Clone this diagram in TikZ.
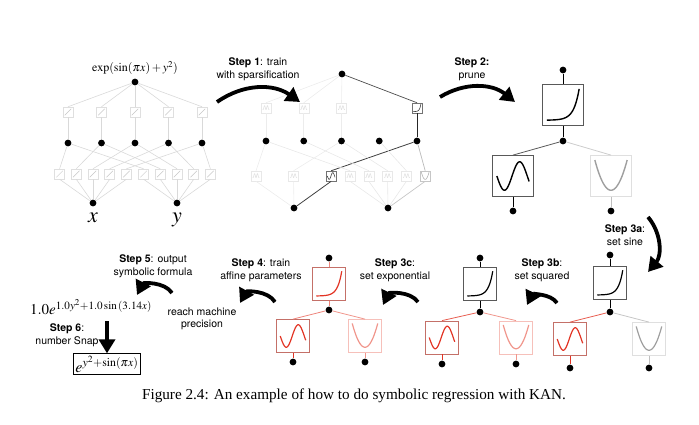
\documentclass[tikz,border=0pt]{standalone}
\usepackage{mathptmx}
\usepackage{fontspec}
\setmainfont{Liberation Serif}
\newfontfamily\helv{TeX Gyre Heros}
\usepackage{tikz}
\usetikzlibrary{arrows.meta, positioning, calc}

\definecolor{kred}{RGB}{226,52,36}
\definecolor{kpink}{RGB}{240,150,140}
\definecolor{kedge}{RGB}{196,112,104}

% curves drawn inside the activation boxes
\newcommand{\drawsine}[3]{\begin{scope}[shift={(#1.center)}, x=#2pt, y=#2pt]
  \draw[#3] plot[domain=-0.85:0.85, samples=40, smooth] (\x, {0.75*sin(225*(\x+0.05))});\end{scope}}
\newcommand{\drawsquare}[3]{\begin{scope}[shift={(#1.center)}, x=#2pt, y=#2pt]
  \draw[#3] plot[domain=-0.85:0.85, samples=40, smooth] (\x, {-0.75+2.2*\x*\x});\end{scope}}
\newcommand{\drawexp}[3]{\begin{scope}[shift={(#1.center)}, x=#2pt, y=#2pt]
  \draw[#3] plot[domain=-0.85:0.85, samples=40, smooth] (\x, {-0.8+1.65*exp(3.5*(\x-0.85))});\end{scope}}
\newcommand{\drawwiggle}[3]{\begin{scope}[shift={(#1.center)}, x=#2pt, y=#2pt]
  \draw[#3] plot[domain=-0.8:0.8, samples=40, smooth] (\x, {0.1-0.5*cos(500*\x)});\end{scope}}

\begin{document}
\begin{tikzpicture}[
    x=1pt, y=-1pt,
    dot/.style={circle, fill=black, inner sep=0pt, minimum size=6.8pt},
    act/.style={draw=gray!25, rectangle, minimum size=10pt, inner sep=0pt, line width=0.5pt},
    fbox/.style={draw=black!65, rectangle, minimum size=33pt, inner sep=0pt, line width=0.8pt},
    faint/.style={draw=gray!30, line width=0.6pt},
    lab/.style={font=\helv\fontsize{10.5}{12.5}\selectfont, align=center},
    bigarrow/.style={-{Triangle[length=14pt, width=16pt]}, line width=3.8pt},
]
\useasboundingbox (0,0) rectangle (699,424);

% Panel 1: initial network
\node[font=\fontsize{12}{12}\selectfont] (f0) at (135,68) {$\exp(\sin(\pi x)+y^2)$};
\node[dot] (t0) at (135,82) {};
\node[dot] (x0) at (93,203) {};
\node[dot] (y0) at (177,203) {};
\node[anchor=base, font=\fontsize{22}{22}\selectfont] (x0l) at (93,222) {$x$};
\node[anchor=base, font=\fontsize{22}{22}\selectfont] (y0l) at (177,222) {$y$};
\foreach \j in {0,...,4} {
  \node[act] (a0\j) at ({68+33.5*\j},112) {};
  \node[dot] (h0\j) at ({68+33.5*\j},143) {};
  \node[act] (bx0\j) at ({59.6+16.7*\j},174) {};
  \node[act] (by0\j) at ({143.6+16.7*\j},174) {};
  \draw[faint] (t0) -- (a0\j.north);
  \draw[faint] (a0\j) -- (h0\j);
  \draw[faint] (h0\j) -- (bx0\j.north);
  \draw[faint] (h0\j) -- (by0\j.north);
  \draw[faint] (bx0\j.south) -- (x0);
  \draw[faint] (by0\j.south) -- (y0);
  \foreach \b in {a0\j, bx0\j, by0\j}
    \draw[gray!45, line width=0.5pt] ([shift={(2,-2)}]\b.south west) -- ([shift={(-2,2)}]\b.north east);
}

% Panel 2: after sparsification
\node[dot] (t1) at (342,74) {};
\node[dot] (x1) at (294,208) {};
\node[dot] (y1) at (388,208) {};
\foreach \j in {0,...,4}
  \node[dot] (h1\j) at ({266+37.75*\j},141) {};
\foreach \j in {0,1,2} {
  \node[act, draw=gray!18] (a1\j) at ({266+37.75*\j},108) {};
  \draw[faint, draw=gray!15] (t1) -- (a1\j.north);
  \draw[faint, draw=gray!15] (a1\j) -- (h1\j);
  \drawwiggle{a1\j}{4}{gray!25, line width=0.5pt}
}
\node[act, draw=black!55] (a14) at (417,108) {};
\draw[black!70, line width=0.7pt] (t1) -- (a14.north);
\draw[black!85, line width=0.8pt] (a14) -- (h14);
\drawexp{a14}{4.5}{black!75, line width=0.6pt}
\foreach \j in {0,2} {
  \node[act, draw=gray!18] (bx1\j) at ({256+18.8*\j},176) {};
  \draw[faint, draw=gray!15] (h1\j) -- (bx1\j.north);
  \draw[faint, draw=gray!15] (bx1\j.south) -- (x1);
  \drawwiggle{bx1\j}{4}{gray!25, line width=0.5pt}
}
\node[act, draw=black!55] (bx14) at (331.2,176) {};
\draw[black!75, line width=0.8pt] (h14) -- (bx14.north);
\draw[black!75, line width=0.8pt] (bx14.south) -- (x1);
\drawsine{bx14}{4.5}{black!75, line width=0.6pt}
\foreach \j in {0,...,3} {
  \node[act, draw=gray!18] (by1\j) at ({350+18.8*\j},176) {};
  \draw[faint, draw=gray!18] (h1\j) -- (by1\j.north);
  \draw[faint, draw=gray!18] (by1\j.south) -- (y1);
  \drawwiggle{by1\j}{4}{gray!25, line width=0.5pt}
}
\node[act, draw=gray!45] (by14) at (425.2,176) {};
\draw[gray!55, line width=0.7pt] (h14) -- (by14.north);
\draw[gray!45, line width=0.7pt] (by14.south) -- (y1);
\drawsquare{by14}{4.5}{gray!60, line width=0.6pt}

% Panel 3: pruned
\node[dot] (t2) at (563,70) {};
\node[fbox, minimum size=41pt] (a2) at (563,105) {};
\node[dot] (h2) at (563,141) {};
\node[fbox, minimum size=41pt] (bx2) at (513,176) {};
\node[fbox, minimum size=41pt, draw=gray!25] (by2) at (611,176) {};
\node[dot] (x2) at (513,211) {};
\node[dot] (y2) at (611,211) {};
\draw[line width=0.8pt] (t2) -- (a2);
\draw[line width=0.8pt] (a2) -- (h2);
\draw[black!65, line width=0.8pt] (h2) -- (bx2.north);
\draw[gray!40, line width=0.8pt] (h2) -- (by2.north);
\draw[line width=0.8pt] (bx2) -- (x2);
\draw[gray!50, line width=0.8pt] (by2) -- (y2);
\drawexp{a2}{19}{line width=1.4pt}
\drawsine{bx2}{19}{line width=1.4pt}
\drawsquare{by2}{19}{gray!75, line width=1.4pt}

% Panel 4: sine fixed
\node[dot] (t3) at (610,255) {};
\node[fbox] (a3) at (610,283) {};
\node[dot] (h3) at (610,312) {};
\node[fbox, draw=kedge] (bx3) at (570,339) {};
\node[fbox, draw=gray!25] (by3) at (649,339) {};
\node[dot] (x3) at (570,368) {};
\node[dot] (y3) at (649,368) {};
\draw[line width=0.8pt] (t3) -- (a3);
\draw[line width=0.8pt] (a3) -- (h3);
\draw[kred!80, line width=0.8pt] (h3) -- (bx3.north);
\draw[gray!45, line width=0.8pt] (h3) -- (by3.north);
\draw[kred, line width=0.8pt] (bx3) -- (x3);
\draw[gray!50, line width=0.8pt] (by3) -- (y3);
\drawexp{a3}{15}{line width=1.2pt}
\drawsine{bx3}{15}{kred, line width=1.2pt}
\drawsquare{by3}{15}{gray!75, line width=1.2pt}

% Panel 5: square fixed
\node[dot] (t4) at (480,258) {};
\node[fbox] (a4) at (480,284) {};
\node[dot] (h4) at (480,312) {};
\node[fbox, draw=kedge] (bx4) at (442,337.5) {};
\node[fbox, draw=kpink!60] (by4) at (516,337.5) {};
\node[dot] (x4) at (442,364) {};
\node[dot] (y4) at (516,364) {};
\draw[line width=0.8pt] (t4) -- (a4);
\draw[line width=0.8pt] (a4) -- (h4);
\draw[kred!80, line width=0.8pt] (h4) -- (bx4.north);
\draw[kpink, line width=0.8pt] (h4) -- (by4.north);
\draw[kred, line width=0.8pt] (bx4) -- (x4);
\draw[kpink, line width=0.8pt] (by4) -- (y4);
\drawexp{a4}{15}{line width=1.2pt}
\drawsine{bx4}{15}{kred, line width=1.2pt}
\drawsquare{by4}{15}{kpink, line width=1.2pt}

% Panel 6: exponential fixed
\node[dot] (t5) at (329,258) {};
\node[fbox, draw=kedge] (a5) at (329,284) {};
\node[dot] (h5) at (329,310) {};
\node[fbox, draw=kedge] (bx5) at (293,336) {};
\node[fbox, draw=kpink!60] (by5) at (365,336) {};
\node[dot] (x5) at (293,362) {};
\node[dot] (y5) at (365,362) {};
\draw[kred!60, line width=0.8pt] (t5) -- (a5);
\draw[kred!60, line width=0.8pt] (a5) -- (h5);
\draw[kred!60, line width=0.8pt] (h5) -- (bx5.north);
\draw[kpink, line width=0.8pt] (h5) -- (by5.north);
\draw[kred, line width=0.8pt] (bx5) -- (x5);
\draw[kpink, line width=0.8pt] (by5) -- (y5);
\drawexp{a5}{15}{kred, line width=1.2pt}
\drawsine{bx5}{15}{kred, line width=1.2pt}
\drawsquare{by5}{15}{kpink, line width=1.2pt}

% Step labels
\node[lab] (s1) at (258,69) {\textbf{Step 1}: train\\with sparsification};
\node[lab] (s2) at (472,69) {\textbf{Step 2:}\\prune};
\node[lab] (s3a) at (625,235) {\textbf{Step 3a}:\\set sine};
\node[lab] (s3b) at (542,270) {\textbf{Step 3b}:\\set squared};
\node[lab] (s3c) at (395,270) {\textbf{Step 3c}:\\set exponential};
\node[lab] (s4) at (261,270) {\textbf{Step 4}: train\\affine parameters};
\node[lab] (prec) at (202,319) {reach machine\\precision};
\node[lab] (s5) at (153,266) {\textbf{Step 5}: output\\symbolic formula};
\node[lab] (s6) at (67,335) {\textbf{Step 6}:\\number Snap};

% Formulas
\node[font=\fontsize{15}{15}\selectfont] (res) at (91,307) {$1.0e^{1.0y^2+1.0\sin\,(3.14x)}$};
\node[draw, line width=0.6pt, inner sep=2pt, font=\fontsize{16}{16}\selectfont] (snap) at (107,364) {$e^{y^2+\sin(\pi x)}$};

% Step arrows
\coordinate (s1a) at (217,102);
\coordinate (s1b) at (300,102);
\coordinate (s2a) at (440,97);
\coordinate (s2b) at (515,102);
\coordinate (s3aa) at (648,217);
\coordinate (s3ab) at (648,272);
\coordinate (s3ba) at (557,303);
\coordinate (s3bb) at (527,305);
\coordinate (s3ca) at (418,302);
\coordinate (s3cb) at (383,305);
\coordinate (s4a) at (275,302);
\coordinate (s4b) at (240,303);
\coordinate (s5a) at (172,293);
\coordinate (s5b) at (137,295);
\coordinate (s6a) at (107,321);
\draw[bigarrow] (s1a) to[bend left=35] (s1b);
\draw[bigarrow] (s2a) to[bend left=35] (s2b);
\draw[bigarrow] (s3aa) to[bend left=40] (s3ab);
\draw[bigarrow] (s3ba) to[bend right=60] (s3bb);
\draw[bigarrow] (s3ca) to[bend right=60] (s3cb);
\draw[bigarrow] (s4a) to[bend right=60] (s4b);
\draw[bigarrow] (s5a) to[bend right=60] (s5b);
\draw[bigarrow] (s6a) -- (snap.north);

% Caption
\node[font=\fontsize{15.2}{18}\selectfont] (cap) at (354,396) {Figure 2.4: An example of how to do symbolic regression with KAN.};
\end{tikzpicture}
\end{document}
